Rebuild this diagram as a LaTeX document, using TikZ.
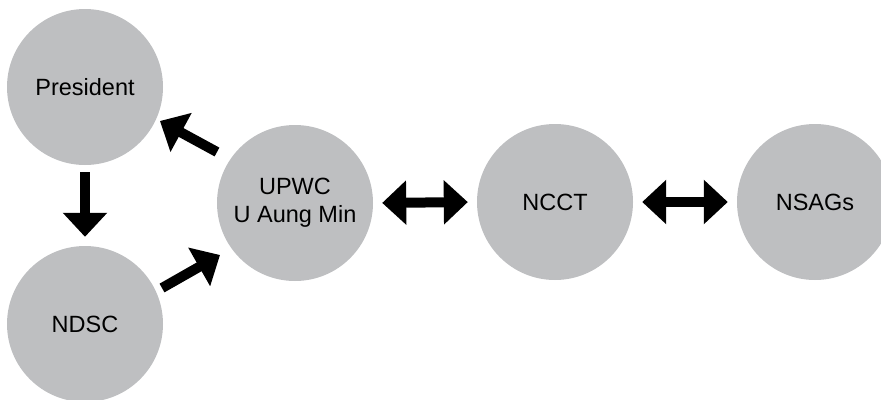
\documentclass[tikz,border=0pt]{standalone}
\usepackage{fontspec}
\setmainfont{Liberation Sans}
\usetikzlibrary{arrows.meta,calc}
\definecolor{circgray}{RGB}{190,191,193}
\begin{document}
\begin{tikzpicture}[x=1pt,y=-1pt,
  bubble/.style={circle,fill=circgray,draw=none,minimum size=156pt,inner sep=0pt,
    font=\fontsize{23.5}{28}\selectfont,align=center,text=black},
  blk/.style={line width=10pt,-{Triangle[width=43pt,length=24pt]}},
  dblk/.style={line width=10pt,{Triangle[width=43pt,length=24pt]}-{Triangle[width=43pt,length=24pt]}}]
\useasboundingbox (0,0) rectangle (881,399);
\clip (0,0) rectangle (881,399);
\node[bubble] (pres) at (85,87) {President};
\node[bubble] (ndsc) at (85,324) {NDSC};
\node[bubble] (upwc) at (295,203) {UPWC\\U Aung Min};
\node[bubble] (ncct) at (555,202) {NCCT};
\node[bubble] (nsags) at (815,202) {NSAGs};
\draw[blk,shorten <=7pt,shorten >=9pt] (pres.south) -- (ndsc.north);
\draw[blk] ($(upwc.center)+(-78,-51)$) -- ($(pres.center)+(75,34)$);
\draw[blk] ($(ndsc.center)+(77,-36)$) -- ($(upwc.center)+(-75,52)$);
\draw[dblk,shorten <=9pt,shorten >=9pt] (upwc.east) -- (ncct.west);
\draw[dblk,shorten <=9pt,shorten >=9pt] (ncct.east) -- (nsags.west);
\end{tikzpicture}
\end{document}
